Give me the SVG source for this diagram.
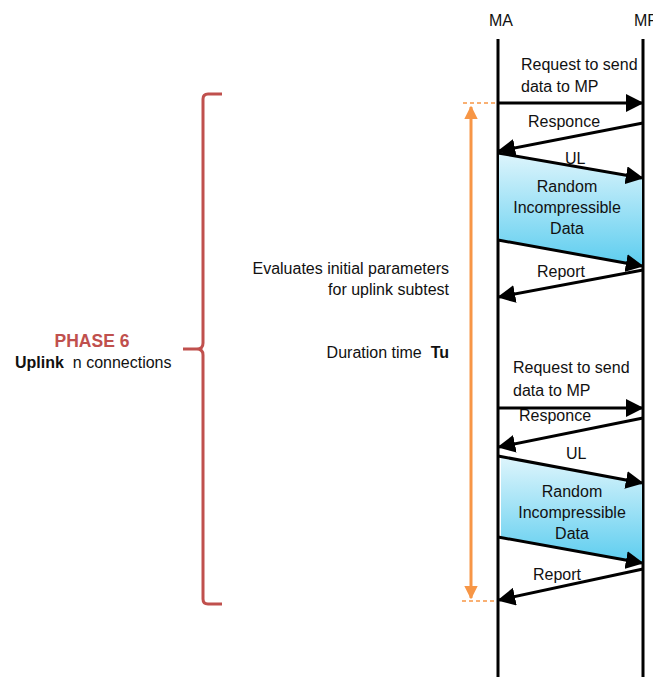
<svg xmlns="http://www.w3.org/2000/svg" width="653" height="677" viewBox="0 0 653 677">
<style>
text{font-family:"Liberation Sans","Open Sans",Arial,sans-serif;font-size:16px;fill:#111}
.life{stroke:#000;stroke-width:3;fill:none}
.msg{stroke:#000;stroke-width:3;fill:none;marker-end:url(#ah)}
.mid{text-anchor:middle}
.end{text-anchor:end}
.brace{stroke:#c0504d;stroke-width:3;fill:none}
.or{stroke:#f79646;stroke-width:3;fill:none}
.ordash{stroke:#f79646;stroke-width:1.5;stroke-dasharray:4 3;fill:none}
.data{fill:url(#g);stroke:none}
</style>
<defs>
<marker id="ah" viewBox="0 0 10 10" refX="9" refY="5" markerWidth="6" markerHeight="6" markerUnits="strokeWidth" orient="auto">
<path d="M0,0 L10,5 L0,10 z" fill="#000"/>
</marker>
<marker id="oh" viewBox="0 0 10 10" refX="9" refY="5" markerWidth="4.5" markerHeight="4.5" markerUnits="strokeWidth" orient="auto-start-reverse">
<path d="M0,0 L10,5 L0,10 z" fill="#f79646"/>
</marker>
<linearGradient id="g" x1="0" y1="0" x2="0" y2="1">
<stop offset="0" stop-color="#def5fc"/>
<stop offset="1" stop-color="#5ccdef"/>
</linearGradient>
</defs>
<g id="MA">
<text x="489" y="26">MA</text>
<line class="life" x1="498" y1="39" x2="498" y2="677"/>
</g>
<g id="MP">
<text x="634" y="26">MP</text>
<line class="life" x1="643" y1="39" x2="643" y2="677"/>
</g>
<g id="data1">
<polygon class="data" points="499,153 642,178 642,266 499,240"/>
<text class="mid" x="567" y="192">Random</text>
<text class="mid" x="567" y="213">Incompressible</text>
<text class="mid" x="567" y="234">Data</text>
</g>
<g id="data2">
<polygon class="data" points="501,457 642,483 642,563 501,537"/>
<text class="mid" x="572" y="497">Random</text>
<text class="mid" x="572" y="518">Incompressible</text>
<text class="mid" x="572" y="539">Data</text>
</g>
<g id="phase">
<path class="brace" d="M222,94 L208,94 Q203,94 203,99 L203,343 Q203,349 197,349 L183,349 L197,349 Q203,349 203,355 L203,599 Q203,604 208,604 L222,604"/>
<text class="mid" x="92" y="347" style="fill:#c0504d;font-weight:bold;font-size:17.5px">PHASE 6</text>
<text x="15" y="368"><tspan style="font-weight:bold">Uplink</tspan>&#160; n connections</text>
</g>
<g id="notes">
<text class="end" x="449" y="274">Evaluates initial parameters</text>
<text class="end" x="449" y="295">for uplink subtest</text>
<text class="end" x="449" y="358">Duration time&#160; <tspan style="font-weight:bold">Tu</tspan></text>
</g>
<g id="labels">
<text x="521" y="70">Request to send</text>
<text x="521" y="92">data to MP</text>
<text x="528" y="127">Responce</text>
<text x="565" y="164">UL</text>
<text x="537" y="277">Report</text>
<text x="513" y="373">Request to send</text>
<text x="513" y="396">data to MP</text>
<text x="519" y="421">Responce</text>
<text x="566" y="459">UL</text>
<text x="533" y="580">Report</text>
</g>
<g id="connectors">
<line class="msg" x1="498" y1="103" x2="642" y2="103"/>
<line class="msg" x1="643" y1="123" x2="499" y2="151"/>
<line class="msg" x1="498" y1="153" x2="642" y2="178"/>
<line class="msg" x1="498" y1="240" x2="642" y2="266"/>
<line class="msg" x1="643" y1="270" x2="499" y2="297"/>
<line class="msg" x1="498" y1="408" x2="642" y2="408"/>
<line class="msg" x1="643" y1="418" x2="499" y2="447"/>
<line class="msg" x1="498" y1="456" x2="642" y2="483"/>
<line class="msg" x1="498" y1="537" x2="642" y2="563"/>
<line class="msg" x1="643" y1="569" x2="499" y2="600"/>
<line class="ordash" x1="463" y1="103" x2="497" y2="103"/>
<line class="ordash" x1="462" y1="601" x2="497" y2="601"/>
<line class="or" x1="471" y1="107" x2="471" y2="598" marker-start="url(#oh)" marker-end="url(#oh)"/>
</g>
</svg>
